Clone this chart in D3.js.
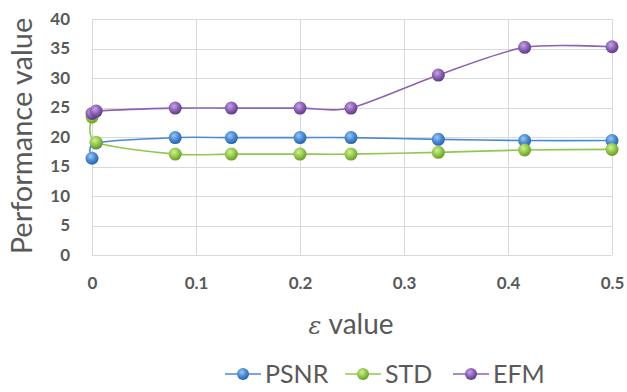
<!DOCTYPE html>
<html>
<head>
<meta charset="utf-8">
<script src="https://cdn.jsdelivr.net/npm/d3@7/dist/d3.min.js"></script>
<style>
  html, body { margin: 0; padding: 0; background: #fff; }
  svg { display: block; font-family: Lato, "Open Sans", sans-serif; }
</style>
</head>
<body>
<svg id="chart" width="627" height="392"></svg>
<script>
// epsilon values sampled on the x axis
const epsilon = [0, 0.004, 0.08, 0.134, 0.2, 0.249, 0.333, 0.416, 0.5];
// performance measures per epsilon
const psnr = [16.4, 19.0, 19.9, 19.9, 19.9, 19.9, 19.6, 19.4, 19.4];
const std  = [23.4, 19.1, 17.1, 17.1, 17.1, 17.1, 17.4, 17.8, 17.9];
const efm  = [24.0, 24.4, 24.9, 24.9, 24.9, 24.9, 30.5, 35.2, 35.3];

const xTicks = [0, 0.1, 0.2, 0.3, 0.4, 0.5];
const yTicks = [0, 5, 10, 15, 20, 25, 30, 35, 40];

const seriesNames = ["PSNR", "STD", "EFM"];
const seriesValues = [psnr, std, efm];
const lineColors = ["#4a8ad4", "#92c850", "#8c62b4"];
const dotLight = ["#9cc8f2", "#d4f08e", "#c6a6e2"];
const dotDark = ["#2a64a8", "#6c9c22", "#5e3a86"];

const svg = d3.select("#chart");
const margin = { left: 92, right: 15, top: 19, bottom: 137 };
const W = 627, H = 392;

const x = d3.scaleLinear().domain([0, 0.5]).range([margin.left, W - margin.right]);
const y = d3.scaleLinear().domain([0, 40]).range([H - margin.bottom, margin.top]);

// gradients for sphere markers
const defs = svg.append("defs");
seriesNames.forEach((n, i) => {
  const g = defs.append("radialGradient")
    .attr("id", "ball" + i)
    .attr("cx", "40%").attr("cy", "35%").attr("r", "65%");
  g.append("stop").attr("offset", "0%").attr("stop-color", dotLight[i]);
  g.append("stop").attr("offset", "55%").attr("stop-color", lineColors[i]);
  g.append("stop").attr("offset", "100%").attr("stop-color", dotDark[i]);
});

// grid
const grid = svg.append("g").attr("stroke", "#d9d9d9").attr("stroke-width", 1);
yTicks.forEach(t => {
  grid.append("line")
    .attr("x1", x(0)).attr("x2", x(0.5))
    .attr("y1", Math.round(y(t)) + 0.5).attr("y2", Math.round(y(t)) + 0.5);
});
xTicks.forEach(t => {
  grid.append("line")
    .attr("y1", y(0)).attr("y2", y(40))
    .attr("x1", Math.round(x(t)) + 0.5).attr("x2", Math.round(x(t)) + 0.5);
});

// y axis tick labels
const yAxis = d3.axisLeft(y).tickValues(yTicks).tickSize(0).tickPadding(22);
svg.append("g")
  .attr("transform", `translate(${margin.left},0)`)
  .call(yAxis)
  .call(g => g.select(".domain").remove())
  .call(g => g.selectAll("text")
    .attr("fill", "#595959").attr("font-size", 17).attr("font-weight", "bold")
    .attr("font-family", "Lato, sans-serif"));

// x axis tick labels
const xAxis = d3.axisBottom(x).tickValues(xTicks).tickSize(0).tickPadding(22)
  .tickFormat(d => d === 0 ? "0" : d3.format(".1f")(d));
svg.append("g")
  .attr("transform", `translate(0,${y(0)})`)
  .call(xAxis)
  .call(g => g.select(".domain").remove())
  .call(g => g.selectAll("text")
    .attr("fill", "#595959").attr("font-size", 17).attr("font-weight", "bold")
    .attr("font-family", "Lato, sans-serif"));

// axis titles
svg.append("text")
  .attr("transform", `translate(32,${136}) rotate(-90)`)
  .attr("text-anchor", "middle")
  .attr("fill", "#595959").attr("font-size", 29)
  .text("Performance value");

const xt = svg.append("text")
  .attr("x", 351).attr("y", 334)
  .attr("text-anchor", "middle")
  .attr("fill", "#595959").attr("font-size", 28);
xt.append("tspan").attr("font-style", "italic").attr("font-family", "DejaVu Serif, serif").attr("font-size", 24).text("ε");
xt.append("tspan").text(" value");

// series lines and markers
const line = d3.line()
  .x(d => x(d[0])).y(d => y(d[1]))
  .curve(d3.curveCardinal.tension(0.2));

seriesValues.forEach((vals, i) => {
  const pts = epsilon.map((e, k) => [e, vals[k]]);
  svg.append("path")
    .datum(pts)
    .attr("fill", "none")
    .attr("stroke", lineColors[i])
    .attr("stroke-width", 1.6)
    .attr("d", line);
});
seriesValues.forEach((vals, i) => {
  const pts = epsilon.map((e, k) => [e, vals[k]]);
  svg.append("g").selectAll("circle")
    .data(pts).join("circle")
    .attr("cx", d => x(d[0])).attr("cy", d => y(d[1]))
    .attr("r", 6.5)
    .attr("fill", `url(#ball${i})`);
});

// legend
const legendX = [225, 345, 453];
const leg = svg.append("g");
seriesNames.forEach((n, i) => {
  const g = leg.append("g").attr("transform", `translate(${legendX[i]},374)`);
  g.append("line").attr("x1", 0).attr("x2", 36).attr("y1", 0).attr("y2", 0)
    .attr("stroke", lineColors[i]).attr("stroke-width", 1.6);
  g.append("circle").attr("cx", 18).attr("cy", 0).attr("r", 6)
    .attr("fill", `url(#ball${i})`);
  g.append("text").attr("x", 40).attr("y", 9)
    .attr("fill", "#595959").attr("font-size", 25)
    .text(n);
});
</script>
</body>
</html>
